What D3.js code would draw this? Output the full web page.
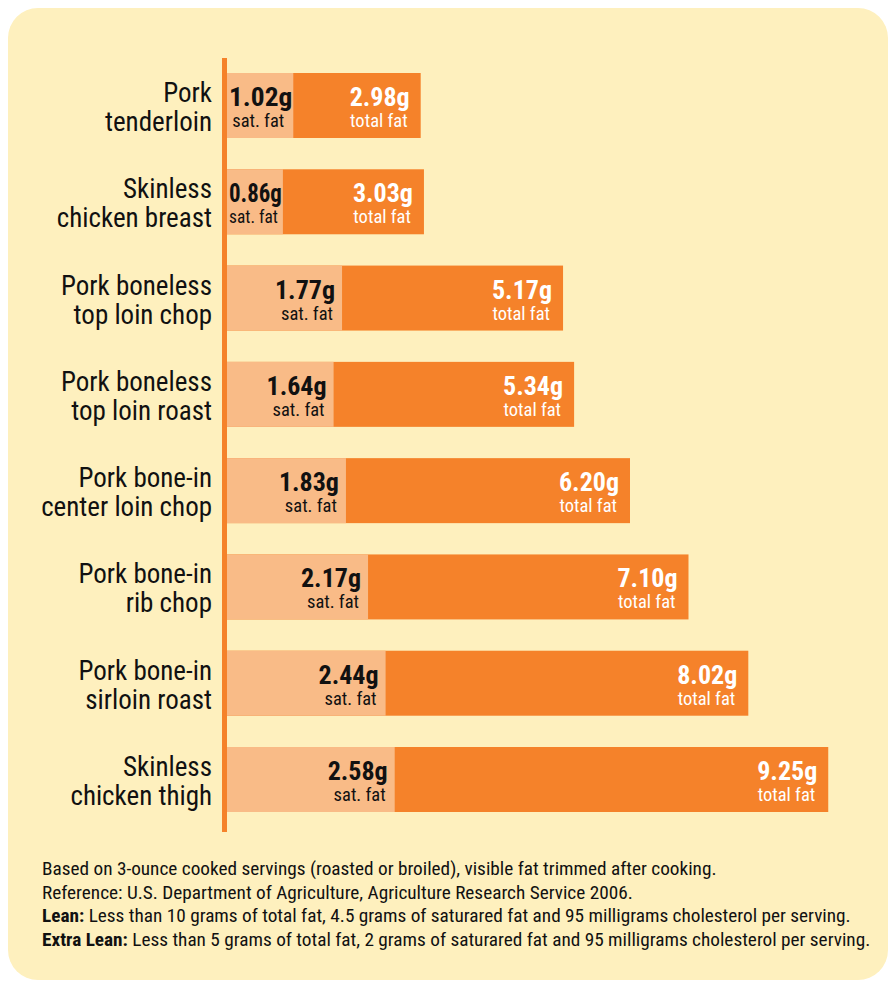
<!DOCTYPE html>
<html>
<head>
<meta charset="utf-8">
<script src="https://cdn.jsdelivr.net/npm/d3@7"></script>
<style>
  body { margin: 0; background: #fff; }
  svg text { font-family: "Liberation Sans Narrow", "Arial Narrow", "Roboto Condensed", "Liberation Sans", sans-serif; }
</style>
</head>
<body>
<div id="chart"></div>
<script>
const categories = [
  ["Pork", "tenderloin"],
  ["Skinless", "chicken breast"],
  ["Pork boneless", "top loin chop"],
  ["Pork boneless", "top loin roast"],
  ["Pork bone-in", "center loin chop"],
  ["Pork bone-in", "rib chop"],
  ["Pork bone-in", "sirloin roast"],
  ["Skinless", "chicken thigh"]
];
const satFat = [1.02, 0.86, 1.77, 1.64, 1.83, 2.17, 2.44, 2.58];
const totalFat = [2.98, 3.03, 5.17, 5.34, 6.20, 7.10, 8.02, 9.25];
const notes = [
  ["", "Based on 3-ounce cooked servings (roasted or broiled), visible fat trimmed after cooking."],
  ["", "Reference: U.S. Department of Agriculture, Agriculture Research Service 2006."],
  ["Lean:", " Less than 10 grams of total fat, 4.5 grams of saturared fat and 95 milligrams cholesterol per serving."],
  ["Extra Lean:", " Less than 5 grams of total fat, 2 grams of saturared fat and 95 milligrams cholesterol per serving."]
];

const W = 894, H = 984;
const light = "#f9bb87", dark = "#f5822a";

const svg = d3.select("#chart")
  .append("svg")
    .attr("width", W)
    .attr("height", H);

// panel
svg.append("rect")
  .attr("x", 8).attr("y", 8)
  .attr("width", 880).attr("height", 972)
  .attr("rx", 30)
  .style("fill", "#fef0be");

const x0 = 227;
const x = d3.scaleLinear()
  .domain([0, 10])
  .range([x0, x0 + 650]);

const y = d3.scaleBand()
  .domain(d3.range(categories.length))
  .range([73, 812])
  .paddingInner(0.325);

const rows = svg.selectAll(".row")
  .data(categories.map((c, i) => ({ label: c, sat: satFat[i], total: totalFat[i], i })))
  .enter().append("g")
    .attr("class", "row")
    .attr("transform", d => `translate(0,${y(d.i)})`);

const bh = y.bandwidth();

// total fat bar
rows.append("rect")
  .attr("x", x(0))
  .attr("width", d => x(d.total) - x(0))
  .attr("height", bh)
  .style("fill", dark);

// sat fat part
rows.append("rect")
  .attr("x", x(0))
  .attr("width", d => x(d.sat) - x(0))
  .attr("height", bh)
  .style("fill", light);

// category labels
const lbl = rows.append("text")
  .attr("text-anchor", "end")
  .style("font-size", "27px")
  .style("fill", "#111");
lbl.append("tspan").attr("x", 212).attr("y", 29).text(d => d.label[0]);
lbl.append("tspan").attr("x", 212).attr("y", 58).text(d => d.label[1]);

// squeeze a label into the light segment when it does not fit
function fitSat(sel, pad) {
  sel.each(function(d) {
    const t = d3.select(this);
    const w = this.getComputedTextLength();
    const room = x(d.sat) - x0 - 2;
    if (w > room - pad) {
      t.attr("x", x0 + 2).attr("text-anchor", "start")
        .attr("textLength", room - (pad > 7 ? 5 : 1))
        .attr("lengthAdjust", "spacingAndGlyphs");
    }
  });
}

// sat fat values
rows.append("text")
  .attr("x", d => x(d.sat) - 7)
  .attr("y", 33)
  .attr("text-anchor", "end")
  .style("font-size", "26px")
  .style("font-weight", "bold")
  .style("fill", "#111")
  .text(d => d.sat.toFixed(2) + "g")
  .call(fitSat, 7);
rows.append("text")
  .attr("x", d => x(d.sat) - 9)
  .attr("y", 54)
  .attr("text-anchor", "end")
  .style("font-size", "18.5px")
  .style("fill", "#111")
  .text("sat. fat")
  .call(fitSat, 9);

// total fat values
rows.append("text")
  .attr("x", d => x(d.total) - 11)
  .attr("y", 33)
  .attr("text-anchor", "end")
  .style("font-size", "26px")
  .style("font-weight", "bold")
  .style("fill", "#fff")
  .text(d => d.total.toFixed(2) + "g");
rows.append("text")
  .attr("x", d => x(d.total) - 13)
  .attr("y", 54)
  .attr("text-anchor", "end")
  .style("font-size", "18.5px")
  .style("fill", "#fff")
  .text("total fat");

// axis line
svg.append("line")
  .attr("x1", x(0) - 2.5).attr("x2", x(0) - 2.5)
  .attr("y1", 58).attr("y2", 832)
  .style("stroke", dark)
  .style("stroke-width", 5);

// footnotes
const note = svg.append("g")
  .attr("transform", "translate(42,0) scale(1.07,1)")
  .selectAll(".note")
  .data(notes)
  .enter().append("text")
    .attr("class", "note")
    .attr("x", 0)
    .attr("y", (d, i) => 875 + i * 23.7)
    .style("font-size", "18px")
    .style("fill", "#111");
note.append("tspan").style("font-weight", "bold").text(d => d[0]);
note.append("tspan").text(d => d[1]);
</script>
</body>
</html>
